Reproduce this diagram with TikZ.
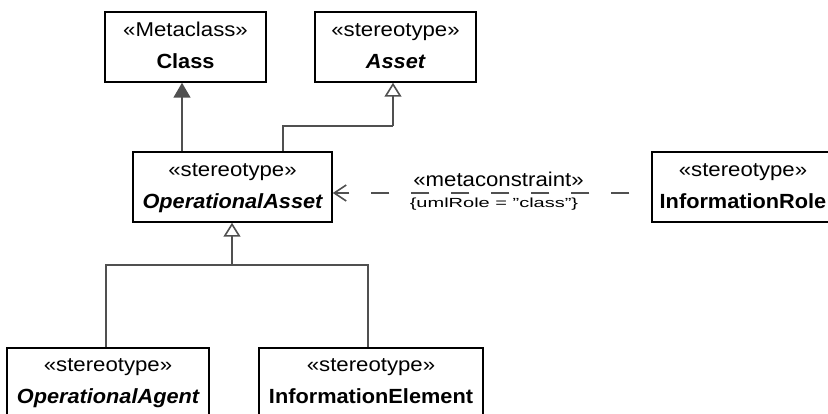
\documentclass[tikz,border=0pt]{standalone}
\usepackage{fontspec}
\setmainfont{Liberation Sans}
\newfontfamily\stereofont[FakeStretch=1.11]{Liberation Sans}
\newfontfamily\namefont[FakeStretch=1.06]{Liberation Sans}
\usetikzlibrary{arrows.meta}
\definecolor{conngray}{RGB}{80,80,80}
\tikzset{
  umlbox/.style={draw=black, line width=1.5pt, inner sep=0pt, fill=white},
  stereo/.style={anchor=base, inner sep=0pt, font=\stereofont\fontsize{20}{24}\selectfont},
  nametxt/.style={anchor=base, inner sep=0pt, font=\namefont\fontsize{20.5}{24}\selectfont\bfseries},
  conn/.style={draw=conngray, line width=1.6pt},
  genfilled/.style={conn, -{Triangle[length=15pt,width=17pt,fill=conngray]}},
  genopen/.style={conn, -{Triangle[open,length=14pt,width=17pt,fill=white]}},
  depline/.style={conn, dash pattern=on 18pt off 22pt, dash phase=18pt, -{Straight Barb[length=12pt,width=16pt]}}
}
\begin{document}
\begin{tikzpicture}[x=1pt,y=-1pt]
\clip (0,0) rectangle (828,414);
\fill[white] (0,0) rectangle (828,414);
% boxes
\node[umlbox, minimum width=161pt, minimum height=70pt] (cls) at (185.5,47) {};
\node[stereo] (clsS) at ([yshift=-25pt]cls.north) {«Metaclass»};
\node[nametxt] (clsN) at ([yshift=-57pt]cls.north) {Class};

\node[umlbox, minimum width=161pt, minimum height=70pt] (ast) at (395.5,47) {};
\node[stereo] (astS) at ([yshift=-25pt]ast.north) {«stereotype»};
\node[nametxt] (astN) at ([yshift=-57pt]ast.north) {\itshape Asset};

\node[umlbox, minimum width=199pt, minimum height=70pt] (oa) at (232.5,187) {};
\node[stereo] (oaS) at ([yshift=-25pt]oa.north) {«stereotype»};
\node[nametxt] (oaN) at ([yshift=-57pt]oa.north) {\itshape OperationalAsset};

\node[umlbox, minimum width=182pt, minimum height=70pt] (ir) at (743,187) {};
\node[stereo] (irS) at ([yshift=-25pt]ir.north) {«stereotype»};
\node[nametxt] (irN) at ([yshift=-57pt]ir.north) {InformationRole};

\node[umlbox, minimum width=202pt, minimum height=80pt] (oag) at (108,388) {};
\node[stereo] (oagS) at ([yshift=-24pt]oag.north) {«stereotype»};
\node[nametxt] (oagN) at ([yshift=-56pt]oag.north) {\itshape OperationalAgent};

\node[umlbox, minimum width=224pt, minimum height=80pt] (ie) at (371,388) {};
\node[stereo] (ieS) at ([yshift=-24pt]ie.north) {«stereotype»};
\node[nametxt] (ieN) at ([yshift=-56pt]ie.north) {InformationElement};

% junction coordinates
\coordinate (c1) at (182,0);
\coordinate (j1) at (283,126);
\coordinate (j2) at (393,126);
\coordinate (jl) at (106,265);
\coordinate (jm) at (232,265);
\coordinate (jr) at (368,265);
\coordinate (dy) at (0,193);

% connectors
\draw[genfilled] (oa.north -| c1) -- (cls.south -| c1);
\draw[conn] (oa.north -| j1) -- (j1) -- (j2);
\draw[genopen] (j2) -- (ast.south -| j2);
\draw[conn] (oag.north -| jl) -- (jl) -- (jr) -- (ie.north -| jr);
\draw[genopen] (jm) -- (oa.south -| jm);
\draw[depline] (ir.west |- dy) -- (oa.east |- dy);

% dependency label
\node[stereo, font=\stereofont\fontsize{20}{24}\selectfont] (mc1) at (498.5,187) {«metaconstraint»};
\node[stereo, font=\fontsize{20}{24}\selectfont] (mc2) at (494,207.5) {\scalebox{1}[0.66]{\{umlRole = "class"\}}};
\end{tikzpicture}
\end{document}
